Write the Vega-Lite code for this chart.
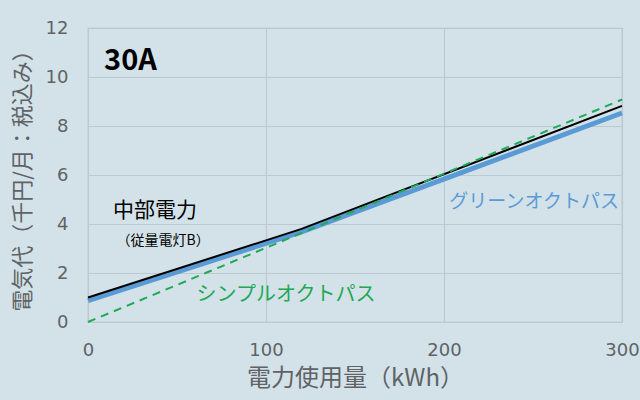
{
  "$schema": "https://vega.github.io/schema/vega-lite/v6.json",
  "width": 534,
  "height": 294,
  "autosize": "none",
  "padding": {"left": 88, "top": 28, "right": 18, "bottom": 78},
  "background": "#d3e2e8",
  "config": {
    "font": "Noto Sans CJK JP",
    "view": {"stroke": "#b4bec2", "strokeWidth": 1.2},
    "axis": {"grid": true, "gridColor": "#bccacf", "gridWidth": 1.2, "domain": false, "ticks": false, "labelColor": "#5f6366", "titleColor": "#5f6366", "labelFont": "DejaVu Sans", "labelFontSize": 18, "titleFontWeight": "normal"}
  },
  "datasets": {
    "lines": [
      {"kwh": 0, "cost": 0.87, "plan": "グリーンオクトパス"},
      {"kwh": 120, "cost": 3.68, "plan": "グリーンオクトパス"},
      {"kwh": 300, "cost": 8.53, "plan": "グリーンオクトパス"},
      {"kwh": 0, "cost": 1.0, "plan": "中部電力"},
      {"kwh": 120, "cost": 3.8, "plan": "中部電力"},
      {"kwh": 300, "cost": 8.82, "plan": "中部電力"},
      {"kwh": 0, "cost": 0.0, "plan": "シンプルオクトパス"},
      {"kwh": 300, "cost": 9.08, "plan": "シンプルオクトパス"}
    ],
    "labels": [
      {"kwh": 9, "cost": 10.65, "text": "30A", "kind": "title"},
      {"kwh": 14, "cost": 4.53, "text": "中部電力", "kind": "chubu"},
      {"kwh": 16, "cost": 3.3, "text": "（従量電灯B）", "kind": "chubu2"},
      {"kwh": 203, "cost": 4.9, "text": "グリーンオクトパス", "kind": "green"},
      {"kwh": 61, "cost": 1.1, "text": "シンプルオクトパス", "kind": "simple"}
    ]
  },
  "encoding": {
    "x": {"field": "kwh", "type": "quantitative", "scale": {"domain": [0, 300], "nice": false, "zero": false}, "axis": {"values": [0, 100, 200, 300], "labelPadding": 19, "title": "電力使用量（kWh）", "titleFontSize": 24, "titlePadding": 7, "labelFlush": false}},
    "y": {"field": "cost", "type": "quantitative", "scale": {"domain": [0, 12], "nice": false}, "axis": {"values": [0, 2, 4, 6, 8, 10, 12], "labelPadding": 20, "title": "電気代（千円/月：税込み）", "titleFontSize": 22, "titlePadding": 11}}
  },
  "layer": [
    {
      "data": {"name": "lines"},
      "transform": [{"filter": "datum.plan === 'グリーンオクトパス'"}],
      "mark": {"type": "line", "color": "#5b9bd5", "strokeWidth": 5}
    },
    {
      "data": {"name": "lines"},
      "transform": [{"filter": "datum.plan === '中部電力'"}],
      "mark": {"type": "line", "color": "#000000", "strokeWidth": 2}
    },
    {
      "data": {"name": "lines"},
      "transform": [{"filter": "datum.plan === 'シンプルオクトパス'"}],
      "mark": {"type": "line", "color": "#1fa855", "strokeWidth": 2, "strokeDash": [8, 6]}
    },
    {
      "data": {"name": "labels"},
      "transform": [{"filter": "datum.kind === 'title'"}],
      "mark": {"type": "text", "align": "left", "baseline": "middle", "fontSize": 29, "fontWeight": "bold", "color": "#000000"},
      "encoding": {"text": {"field": "text"}}
    },
    {
      "data": {"name": "labels"},
      "transform": [{"filter": "datum.kind === 'chubu'"}],
      "mark": {"type": "text", "align": "left", "baseline": "middle", "fontSize": 21, "color": "#000000"},
      "encoding": {"text": {"field": "text"}}
    },
    {
      "data": {"name": "labels"},
      "transform": [{"filter": "datum.kind === 'chubu2'"}],
      "mark": {"type": "text", "align": "left", "baseline": "middle", "fontSize": 14, "color": "#000000"},
      "encoding": {"text": {"field": "text"}}
    },
    {
      "data": {"name": "labels"},
      "transform": [{"filter": "datum.kind === 'green'"}],
      "mark": {"type": "text", "align": "left", "baseline": "middle", "fontSize": 19, "color": "#5b9bd5"},
      "encoding": {"text": {"field": "text"}}
    },
    {
      "data": {"name": "labels"},
      "transform": [{"filter": "datum.kind === 'simple'"}],
      "mark": {"type": "text", "align": "left", "baseline": "middle", "fontSize": 20, "color": "#1fa855"},
      "encoding": {"text": {"field": "text"}}
    }
  ]
}
